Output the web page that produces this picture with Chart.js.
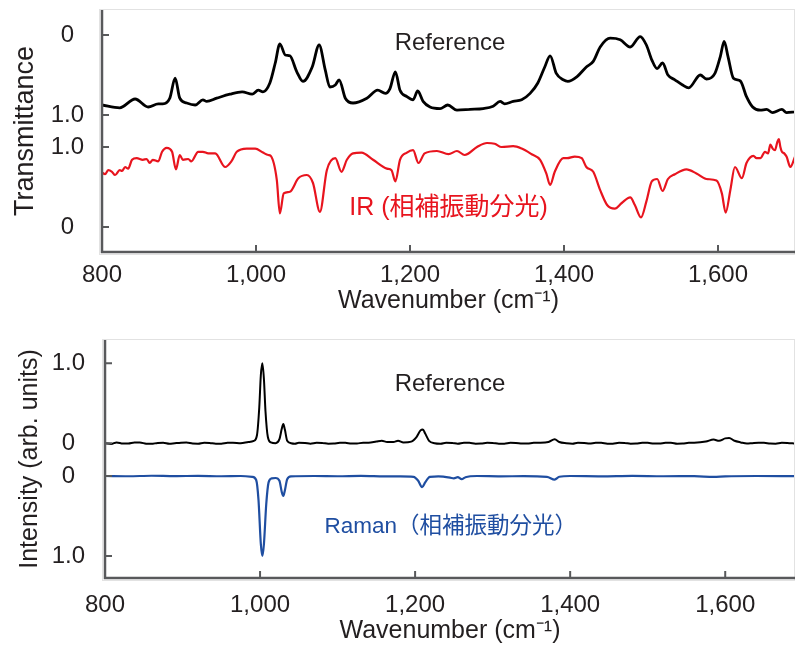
<!DOCTYPE html>
<html>
<head>
<meta charset="utf-8">
<script src="https://cdn.jsdelivr.net/npm/chart.js@4.4.1/dist/chart.umd.min.js"></script>
<style>
  html, body { margin: 0; padding: 0; background: #fff; }
  #wrap { position: relative; width: 795px; height: 647px; }
  #irChart { position: absolute; left: 0; top: 0; }
  #ramanChart { position: absolute; left: 0; top: 330px; }
</style>
</head>
<body>
<div id="wrap">
  <canvas id="irChart" width="795" height="330"></canvas>
  <canvas id="ramanChart" width="795" height="317"></canvas>
</div>
<script>
// ---- data ----
const xTicks = [800, 1000, 1200, 1400, 1600];

// IR panel: reference transmittance (black), measured IR (red)
const irRefWn = [800, 823, 843, 860, 873, 879, 888, 895, 901, 910, 921, 931, 936, 949, 966, 982, 995, 1003, 1009, 1018, 1025, 1031, 1038, 1044, 1053, 1061, 1073, 1082, 1090, 1096, 1103, 1108, 1116, 1126, 1144, 1158, 1168, 1174, 1181, 1187, 1196, 1204, 1210, 1217, 1226, 1239, 1249, 1261, 1278, 1295, 1308, 1317, 1323, 1334, 1345, 1356, 1366, 1375, 1382, 1390, 1399, 1405, 1417, 1429, 1438, 1447, 1460, 1473, 1486, 1499, 1507, 1514, 1521, 1528, 1535, 1544, 1554, 1562, 1577, 1585, 1596, 1603, 1608, 1613, 1620, 1629, 1637, 1645, 1655, 1663, 1671, 1683, 1689, 1700];
const irRefT = [0.875, 0.91, 0.80, 0.90, 0.86, 0.86, 0.79, 0.54, 0.79, 0.85, 0.875, 0.81, 0.83, 0.79, 0.74, 0.71, 0.74, 0.69, 0.71, 0.60, 0.35, 0.11, 0.25, 0.26, 0.46, 0.58, 0.40, 0.125, 0.44, 0.65, 0.625, 0.56, 0.79, 0.85, 0.79, 0.69, 0.73, 0.67, 0.46, 0.69, 0.77, 0.81, 0.70, 0.83, 0.90, 0.92, 0.875, 0.94, 0.93, 0.92, 0.89, 0.83, 0.86, 0.83, 0.81, 0.73, 0.60, 0.40, 0.26, 0.48, 0.56, 0.58, 0.52, 0.40, 0.33, 0.15, 0.04, 0.06, 0.15, 0.02, 0.125, 0.31, 0.42, 0.35, 0.50, 0.56, 0.625, 0.66, 0.50, 0.55, 0.48, 0.27, 0.08, 0.27, 0.54, 0.575, 0.77, 0.90, 0.94, 0.93, 0.97, 0.93, 0.97, 0.96];

const irWn = [800, 804, 808, 813, 817, 823, 826, 830, 834, 839, 845, 853, 858, 862, 866, 873, 878, 884, 891, 896, 901, 905, 912, 916, 925, 931, 938, 947, 960, 968, 975, 988, 999, 1009, 1016, 1019, 1027, 1031, 1036, 1044, 1055, 1066, 1074, 1083, 1092, 1103, 1111, 1118, 1126, 1137, 1152, 1170, 1176, 1181, 1187, 1196, 1204, 1211, 1219, 1235, 1250, 1261, 1271, 1287, 1300, 1310, 1319, 1334, 1345, 1358, 1369, 1377, 1382, 1388, 1399, 1404, 1414, 1423, 1429, 1438, 1447, 1456, 1466, 1475, 1486, 1492, 1500, 1507, 1514, 1521, 1528, 1535, 1544, 1559, 1572, 1585, 1598, 1605, 1610, 1616, 1622, 1631, 1637, 1646, 1650, 1655, 1661, 1665, 1668, 1671, 1674, 1677, 1679, 1681, 1683, 1686, 1689, 1694, 1700];
const irT = [0.68, 0.66, 0.71, 0.69, 0.65, 0.71, 0.70, 0.75, 0.73, 0.84, 0.86, 0.84, 0.85, 0.80, 0.84, 0.82, 0.94, 0.99, 0.94, 0.72, 0.90, 0.84, 0.85, 0.82, 0.94, 0.94, 0.92, 0.92, 0.75, 0.82, 0.94, 0.98, 0.98, 0.93, 0.90, 0.89, 0.59, 0.17, 0.42, 0.44, 0.61, 0.65, 0.55, 0.19, 0.71, 0.86, 0.69, 0.84, 0.92, 0.93, 0.84, 0.73, 0.71, 0.57, 0.84, 0.93, 0.96, 0.80, 0.92, 0.95, 0.91, 0.95, 0.90, 1.00, 1.05, 1.04, 1.00, 1.01, 0.98, 0.91, 0.84, 0.67, 0.525, 0.69, 0.86, 0.86, 0.88, 0.86, 0.75, 0.69, 0.46, 0.275, 0.23, 0.30, 0.37, 0.275, 0.12, 0.32, 0.57, 0.60, 0.45, 0.60, 0.66, 0.72, 0.67, 0.60, 0.58, 0.42, 0.18, 0.46, 0.75, 0.61, 0.80, 0.89, 0.86, 0.86, 0.94, 0.92, 1.03, 0.98, 0.96, 1.06, 1.10, 1.00, 0.94, 0.92, 0.88, 0.75, 0.88];

// Raman panel: reference intensity (black), measured Raman (blue)
const ramanRefWn = [800, 808, 815, 823, 830, 838, 845, 853, 860, 868, 875, 883, 890, 898, 905, 913, 920, 928, 935, 943, 950, 958, 965, 975, 985, 992, 996, 999, 1001, 1003, 1005, 1007, 1010, 1014, 1020, 1025, 1028, 1030, 1032, 1035, 1040, 1045, 1050, 1058, 1065, 1073, 1080, 1088, 1095, 1103, 1110, 1118, 1125, 1133, 1140, 1150, 1157, 1164, 1172, 1178, 1185, 1195, 1202, 1207, 1210, 1213, 1218, 1225, 1233, 1240, 1248, 1255, 1263, 1270, 1278, 1285, 1293, 1300, 1308, 1315, 1323, 1330, 1338, 1345, 1353, 1360, 1372, 1380, 1386, 1395, 1403, 1410, 1418, 1425, 1433, 1440, 1448, 1455, 1463, 1470, 1478, 1485, 1493, 1500, 1508, 1515, 1523, 1530, 1538, 1545, 1553, 1560, 1575, 1585, 1592, 1600, 1605, 1612, 1620, 1628, 1635, 1643, 1650, 1658, 1665, 1673, 1680, 1690];
const ramanRefI = [0.0, -0.01, 0.01, -0.004, -0.005, 0.008, 0.008, -0.006, -0.008, 0.004, 0.005, -0.007, 0.0, 0.007, 0.008, -0.004, -0.006, 0.006, 0.004, -0.007, -0.006, 0.005, 0.006, 0.0, 0.015, 0.03, 0.1, 0.45, 0.85, 1.0, 0.8, 0.4, 0.08, 0.01, 0.0, 0.05, 0.18, 0.24, 0.17, 0.03, 0.0, -0.006, 0.006, 0.003, -0.006, 0.005, 0.004, -0.006, -0.005, 0.006, 0.005, -0.005, -0.004, 0.006, 0.005, 0.02, 0.03, 0.015, 0.015, 0.03, 0.01, 0.02, 0.08, 0.16, 0.17, 0.12, 0.03, 0.0, -0.006, 0.006, 0.004, -0.006, 0.006, 0.005, -0.006, -0.005, 0.005, 0.004, -0.006, -0.006, 0.005, 0.004, -0.005, -0.004, 0.005, 0.006, 0.015, 0.05, 0.015, 0.0, -0.006, 0.006, 0.004, -0.005, 0.005, 0.005, -0.006, -0.006, 0.005, 0.004, -0.006, -0.005, 0.006, 0.005, -0.005, -0.004, 0.005, 0.006, -0.006, -0.005, 0.005, 0.006, 0.02, 0.045, 0.03, 0.06, 0.065, 0.03, 0.01, -0.005, 0.0, 0.005, 0.006, -0.005, -0.006, 0.005, 0.004, -0.004];

const ramanWn = [800, 830, 860, 890, 920, 950, 975, 990, 995, 998, 1001, 1003, 1005, 1008, 1011, 1015, 1020, 1025, 1028, 1030, 1032, 1035, 1040, 1070, 1100, 1130, 1160, 1180, 1198, 1204, 1209, 1213, 1219, 1230, 1245, 1250, 1255, 1260, 1265, 1280, 1310, 1340, 1370, 1380, 1386, 1400, 1440, 1480, 1520, 1560, 1585, 1600, 1640, 1690];
const ramanI = [0.0, 0.003, -0.003, 0.002, -0.002, 0.003, 0.0, 0.01, 0.05, 0.3, 0.85, 1.0, 0.85, 0.35, 0.08, 0.03, 0.025, 0.06, 0.2, 0.25, 0.18, 0.04, 0.005, 0.0, 0.003, -0.002, 0.004, 0.005, 0.01, 0.06, 0.14, 0.08, 0.01, 0.005, 0.02, 0.03, 0.015, 0.04, 0.015, 0.0, 0.004, 0.002, 0.01, 0.045, 0.01, 0.0, 0.004, -0.002, 0.003, 0.002, 0.012, 0.004, 0.0, 0.002];

// ---- stacking of the two traces in each panel (in axis units) ----
const irRefTop = 2.4;     // black: T=0 drawn at 2.4, T=1 at 1.4
const ramanRefBase = 0.41; // black Raman baseline

const FONT = "'Liberation Sans', Arial, 'Noto Sans CJK JP', sans-serif";
const INK = '#231f20';
const AXIS = '#58595b';

function pts(xs, ys, f) {
  return xs.map((x, i) => ({ x, y: f(ys[i]) }));
}

const frame = {
  id: 'frame',
  afterDatasetsDraw(chart, args, opts) {
    const { ctx, chartArea: a, scales: { x, y } } = chart;
    ctx.save();
    ctx.strokeStyle = '#e2e2e2';
    ctx.lineWidth = 1;
    ctx.strokeRect(a.left - 2.5, a.top - 0.5, a.right - a.left + 2, a.bottom - a.top + 3);
    ctx.strokeStyle = AXIS;
    ctx.lineWidth = 2.5;
    ctx.beginPath();
    ctx.moveTo(a.left, a.top);
    ctx.lineTo(a.left, a.bottom);
    ctx.lineTo(a.right, a.bottom);
    ctx.stroke();
    ctx.lineWidth = 2;
    ctx.beginPath();
    x.ticks.forEach(t => {
      const px = x.getPixelForValue(t.value);
      ctx.moveTo(px, a.bottom);
      ctx.lineTo(px, a.bottom - 7);
    });
    y.ticks.forEach(t => {
      const py = y.getPixelForValue(t.value);
      ctx.moveTo(a.left, py);
      ctx.lineTo(a.left + 7, py);
    });
    ctx.stroke();
    ctx.textAlign = 'center';
    ctx.textBaseline = 'middle';
    (opts.labels || []).forEach(l => {
      ctx.fillStyle = l.color;
      ctx.font = l.size + 'px ' + FONT;
      ctx.fillText(l.text, x.getPixelForValue(l.x), y.getPixelForValue(l.y));
    });
    ctx.restore();
  }
};

function noPad(s) {
  s.paddingTop = 0; s.paddingBottom = 0; s.paddingLeft = 0; s.paddingRight = 0;
}

function makeChart(id, cfg) {
  return new Chart(document.getElementById(id), {
    type: 'line',
    data: { datasets: cfg.datasets },
    plugins: [frame],
    options: {
      responsive: false,
      animation: false,
      events: [],
      layout: { padding: { top: 10, right: 0, left: 0, bottom: 0 } },
      elements: {
        point: { radius: 0 },
        line: { cubicInterpolationMode: 'monotone', borderJoinStyle: 'round' }
      },
      plugins: {
        legend: { display: false },
        tooltip: { enabled: false },
        frame: { labels: cfg.labels }
      },
      scales: {
        x: {
          type: 'linear',
          min: 800,
          max: cfg.xMax,
          afterBuildTicks: s => { s.ticks = xTicks.map(v => ({ value: v })); },
          afterFit: s => { s.height = cfg.xHeight; noPad(s); },
          grid: { display: false },
          border: { display: false },
          ticks: {
            padding: cfg.xTickPad,
            color: INK,
            font: { family: FONT, size: 24 },
            maxRotation: 0,
            callback: v => v.toLocaleString('en-US')
          },
          title: {
            display: true,
            text: 'Wavenumber (cm⁻¹)',
            color: INK,
            font: { family: FONT, size: 25 },
            padding: { top: 0, bottom: cfg.xTitlePad }
          }
        },
        y: {
          type: 'linear',
          min: cfg.yMin,
          max: cfg.yMax,
          afterBuildTicks: s => { s.ticks = cfg.yTickVals.map(v => ({ value: v })); },
          afterFit: s => { s.width = cfg.yWidth; noPad(s); },
          grid: { display: false },
          border: { display: false },
          ticks: {
            padding: cfg.yTickPad,
            crossAlign: 'center',
            color: INK,
            font: { family: FONT, size: 24 },
            callback: (v, i) => cfg.yTickText[i]
          },
          title: {
            display: true,
            text: cfg.yTitle,
            color: INK,
            font: { family: FONT, size: cfg.yTitleSize },
            padding: { top: cfg.yTitlePad, bottom: 0 }
          }
        }
      }
    }
  });
}

makeChart('irChart', {
  xMax: 1700,
  xHeight: 78,
  xTickPad: 1,
  xTitlePad: 14,
  yMin: -0.3125,
  yMax: 2.7125,
  yWidth: 102,
  yTickPad: 10,
  yTitlePad: 9,
  yTitleSize: 27,
  yTitle: 'Transmittance',
  yTickVals: [0, 1, 1.4, 2.4],
  yTickText: ['0', '1.0', '1.0', '0'],
  datasets: [
    { data: pts(irRefWn, irRefT, t => irRefTop - t), borderColor: '#000000', borderWidth: 2.8 },
    { data: pts(irWn, irT, t => t), borderColor: '#e8141e', borderWidth: 2.2 }
  ],
  labels: [
    { text: 'Reference', x: 1252, y: 2.3, color: INK, size: 24 },
    { text: 'IR (相補振動分光)', x: 1250, y: 0.24, color: '#e8141e', size: 25 }
  ]
});

makeChart('ramanChart', {
  xMax: 1690,
  xHeight: 69,
  xTickPad: 5,
  xTitlePad: 1,
  yMin: -1.275,
  yMax: 1.7,
  yWidth: 105,
  yTickPad: 12,
  yTitlePad: 15,
  yTitleSize: 25,
  yTitle: 'Intensity (arb. units)',
  yTickVals: [-1, 0, ramanRefBase, ramanRefBase + 1],
  yTickText: ['1.0', '0', '0', '1.0'],
  datasets: [
    { data: pts(ramanRefWn, ramanRefI, v => ramanRefBase + v), borderColor: '#000000', borderWidth: 2 },
    { data: pts(ramanWn, ramanI, v => -v), borderColor: '#1f4ea1', borderWidth: 2.2 }
  ],
  labels: [
    { text: 'Reference', x: 1245, y: 1.15, color: INK, size: 24 },
    { text: 'Raman（相補振動分光）', x: 1246, y: -0.64, color: '#1f4ea1', size: 22.5 }
  ]
});
</script>
</body>
</html>
